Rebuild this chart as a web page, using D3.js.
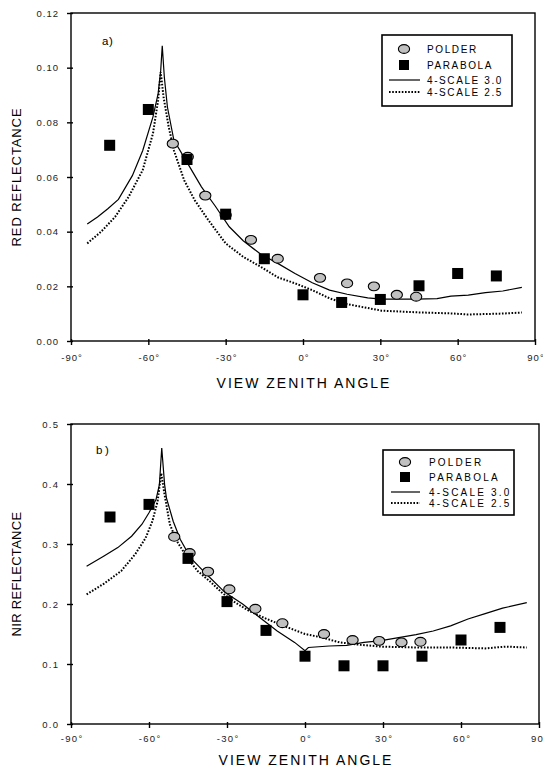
<!DOCTYPE html>
<html>
<head>
<meta charset="utf-8">
<script src="https://cdn.jsdelivr.net/npm/d3@7"></script>
<style>
  body { margin: 0; background: #fff; }
  svg { font-family: "Liberation Sans", Arial, sans-serif; }
</style>
</head>
<body>
<svg id="chart" width="543" height="770"></svg>
<script>
// ---- data ----
const xTicks = [-90, -60, -30, 0, 30, 60, 90];
const redTicks = [0, 0.02, 0.04, 0.06, 0.08, 0.10, 0.12];
const nirTicks = [0, 0.1, 0.2, 0.3, 0.4, 0.5];
const legendLabels = ["POLDER", "PARABOLA", "4-SCALE 3.0", "4-SCALE 2.5"];

// panel a) red
const redPolder = [
  [-50.5, 0.0722], [-44.7, 0.0674], [-37.9, 0.0532], [-30, 0.0461], [-20.2, 0.037],
  [-9.8, 0.0301], [6.6, 0.0231], [17.1, 0.0211], [27.5, 0.020], [36.4, 0.0169], [43.9, 0.0162]
];
const redParabola = [
  [-75, 0.0716], [-60, 0.0847], [-45, 0.0664], [-30, 0.0464], [-15, 0.0301], [0, 0.0169],
  [15, 0.0141], [30, 0.0152], [45, 0.0202], [60, 0.0247], [75, 0.0238]
];
const red30 = [
  [-83.7, 0.0428], [-79.7, 0.0454], [-75.6, 0.0485], [-71.6, 0.0518], [-66.2, 0.0605],
  [-62.2, 0.0696], [-58.2, 0.082], [-56.2, 0.0905], [-55.2, 0.099], [-54.6, 0.108],
  [-53.8, 0.0966], [-52.6, 0.0856], [-50.1, 0.0735], [-44.7, 0.0649], [-39.4, 0.0564],
  [-34, 0.0493], [-28.6, 0.0418], [-23.2, 0.0367], [-16.5, 0.0318], [-9.8, 0.0284],
  [-3.1, 0.0247], [3.6, 0.0213], [10.3, 0.0186], [17.1, 0.0171], [25.1, 0.0158],
  [30.5, 0.0153], [43.9, 0.0153], [52, 0.0155], [57.4, 0.0164], [64.1, 0.0168],
  [70.8, 0.0177], [77.5, 0.0183], [84.9, 0.0196]
];
const red25 = [
  [-83.7, 0.0357], [-78.3, 0.040], [-72.9, 0.0454], [-67.6, 0.0528], [-62.2, 0.0625],
  [-58.2, 0.0759], [-56.2, 0.0881], [-55.2, 0.0984], [-54.1, 0.0893], [-52.1, 0.0783],
  [-50.1, 0.0698], [-46.1, 0.0588], [-42, 0.0515], [-36.7, 0.0442], [-30, 0.0357],
  [-23.2, 0.0308], [-16.5, 0.0272], [-9.8, 0.0233], [-3.1, 0.0211], [3.6, 0.0186],
  [10.3, 0.0156], [17.1, 0.0135], [23.8, 0.0123], [30.5, 0.0111], [43.9, 0.0105],
  [57.4, 0.0101], [64.1, 0.0097], [76.2, 0.010], [84.9, 0.0104]
];

// panel b) nir
const nirPolder = [
  [-50.3, 0.312], [-44.4, 0.285], [-37.3, 0.254], [-29.1, 0.2245], [-19.1, 0.192],
  [-8.7, 0.168], [7.3, 0.150], [18.3, 0.140], [28.5, 0.1386], [37.1, 0.136], [44.4, 0.137]
];
const nirParabola = [
  [-75, 0.345], [-60, 0.366], [-45, 0.276], [-30, 0.204], [-15, 0.156], [0, 0.113],
  [15, 0.097], [30, 0.097], [45, 0.113], [60, 0.140], [75, 0.161]
];
const nir30 = [
  [-84, 0.263], [-77.3, 0.280], [-72, 0.294], [-66.7, 0.313], [-62.7, 0.333], [-60, 0.352],
  [-57.3, 0.374], [-56, 0.399], [-55.1, 0.460], [-54, 0.399], [-53.3, 0.377], [-50.7, 0.338],
  [-48, 0.308], [-44, 0.277], [-37.3, 0.247], [-30.7, 0.219], [-24, 0.200], [-17.3, 0.177],
  [-10.7, 0.155], [-4, 0.136], [0, 0.122], [1.3, 0.1275], [9.3, 0.130], [16, 0.131],
  [22.7, 0.136], [29.3, 0.139], [36, 0.144], [42.7, 0.149], [49.3, 0.155], [56, 0.1635],
  [62.7, 0.175], [69.3, 0.184], [76, 0.193], [85.3, 0.2023]
];
const nir25 = [
  [-84, 0.216], [-77.3, 0.234], [-70.7, 0.255], [-65.3, 0.283], [-61.3, 0.310], [-58.7, 0.338],
  [-56.7, 0.371], [-55.3, 0.418], [-54, 0.382], [-52, 0.333], [-49.3, 0.305], [-45.3, 0.277],
  [-41.3, 0.255], [-36, 0.2355], [-32, 0.219], [-26.7, 0.202], [-21.3, 0.188], [-14.7, 0.175],
  [-6.7, 0.161], [0, 0.150], [6.7, 0.144], [13.3, 0.136], [21.3, 0.132], [29.3, 0.129],
  [42.7, 0.1275], [56, 0.1275], [69.3, 0.126], [77.3, 0.129], [85.3, 0.1275]
];

const svg = d3.select("#chart");

function drawPanel(p) {
  const g = svg.append("g");
  const x = d3.scaleLinear().domain([-90, 90]).range([p.left, p.right]);
  const y = d3.scaleLinear().domain([0, p.yTicks[p.yTicks.length - 1]]).range([p.bottom, p.top]);

  // axes, ticks cross the frame a little
  const xa = g.append("g")
    .attr("transform", `translate(0,${p.bottom})`)
    .call(d3.axisBottom(x).tickValues(xTicks).tickSize(4).tickSizeOuter(0).tickFormat(d => d + "°"));
  const ya = g.append("g")
    .attr("transform", `translate(${p.left},0)`)
    .call(d3.axisLeft(y).tickValues(p.yTicks).tickSize(4).tickSizeOuter(0).tickFormat(d3.format(p.yFmt)));
  [xa, ya].forEach(a => {
    a.select(".domain").remove();
    a.selectAll("line").attr("stroke", "#000").attr("stroke-width", 1.4);
    a.selectAll("text").attr("fill", "#222").style("font-size", "9.5px")
      .style("letter-spacing", p.tickSpacing + "px")
      .style("font-family", "'Liberation Sans', Arial, sans-serif");
  });
  xa.selectAll("line").attr("y1", -2);
  ya.selectAll("line").attr("x1", 2);
  xa.selectAll("text").attr("y", p.xLabelOff).attr("dy", "0.35em").attr("dx", p.tickSpacing / 2);
  ya.selectAll("text").attr("x", -13 + p.tickSpacing);

  // frame
  g.append("rect")
    .attr("x", p.left).attr("y", p.top)
    .attr("width", p.right - p.left).attr("height", p.bottom - p.top)
    .attr("fill", "none").attr("stroke", "#000").attr("stroke-width", 1.4);

  const line = d3.line().x(d => x(d[0])).y(d => y(d[1]));

  g.append("path").datum(p.dotted).attr("d", line)
    .attr("fill", "none").attr("stroke", "#000").attr("stroke-width", 2)
    .attr("stroke-dasharray", "1.6,1.6");
  g.append("path").datum(p.solid).attr("d", line)
    .attr("fill", "none").attr("stroke", "#000").attr("stroke-width", 1.2);

  g.selectAll("ellipse.pol").data(p.polder).join("ellipse")
    .attr("class", "pol")
    .attr("cx", d => x(d[0])).attr("cy", d => y(d[1]))
    .attr("rx", 5.6).attr("ry", 4.4)
    .attr("fill", "#c0c0c0").attr("stroke", "#000").attr("stroke-width", 1.1);

  g.selectAll("rect.par").data(p.parabola).join("rect")
    .attr("class", "par")
    .attr("x", d => x(d[0]) - 5.5).attr("y", d => y(d[1]) - 5.5)
    .attr("width", 11).attr("height", 11).attr("fill", "#000");

  // panel tag
  g.append("text").attr("x", p.tag[1]).attr("y", p.tag[2])
    .style("font-size", "11.5px").style("letter-spacing", p.tag[3] + "px").text(p.tag[0]);

  // axis titles
  g.append("text")
    .attr("transform", `translate(${p.yTitleX},${(p.top + p.bottom) / 2}) rotate(-90)`)
    .attr("text-anchor", "middle").attr("dy", "0.35em")
    .style("font-size", "13px").style("letter-spacing", p.titleSpacing + "px")
    .text(p.yTitle);
  g.append("text")
    .attr("x", (p.left + p.right) / 2 + 1).attr("y", p.xTitleY)
    .attr("text-anchor", "middle").style("font-size", "14px").style("letter-spacing", "2px")
    .text("VIEW ZENITH ANGLE");

  // legend
  const L = p.legend;
  g.append("rect").attr("x", L.x).attr("y", L.y).attr("width", L.w).attr("height", L.h)
    .attr("fill", "#fff").attr("stroke", "#000").attr("stroke-width", 1.6);
  const lg = g.append("g");
  L.rows.forEach((ry, i) => {
    lg.append("text").attr("x", L.tx).attr("y", ry).attr("dy", "0.35em")
      .style("font-size", "10px").style("letter-spacing", L.spacing + "px")
      .text(legendLabels[i]);
  });
  lg.append("ellipse").attr("cx", L.sx).attr("cy", L.rows[0]).attr("rx", 5.6).attr("ry", 4.4)
    .attr("fill", "#c0c0c0").attr("stroke", "#000").attr("stroke-width", 1.1);
  lg.append("rect").attr("x", L.sx - 5).attr("y", L.rows[1] - 5).attr("width", 10).attr("height", 10)
    .attr("fill", "#000");
  lg.append("line").attr("x1", L.lx0).attr("x2", L.lx1).attr("y1", L.rows[2]).attr("y2", L.rows[2])
    .attr("stroke", "#000").attr("stroke-width", 1.2);
  lg.append("line").attr("x1", L.lx0).attr("x2", L.lx1).attr("y1", L.rows[3]).attr("y2", L.rows[3])
    .attr("stroke", "#000").attr("stroke-width", 2).attr("stroke-dasharray", "1.6,1.6");
}

drawPanel({
  left: 71, right: 535, top: 13, bottom: 341,
  yTicks: redTicks, yFmt: ".2f", tickSpacing: 1, xLabelOff: 17,
  polder: redPolder, parabola: redParabola, solid: red30, dotted: red25,
  tag: ["a)", 102, 45, 0.5], yTitle: "RED REFLECTANCE", yTitleX: 16, titleSpacing: 0.9, xTitleY: 388,
  legend: { x: 382, y: 35, w: 130, h: 71, rows: [49, 65, 80, 92], sx: 404, tx: 427, lx0: 389, lx1: 420, spacing: 1.6 }
});

drawPanel({
  left: 71, right: 539, top: 424, bottom: 724,
  yTicks: nirTicks, yFmt: ".1f", tickSpacing: 1.3, xLabelOff: 15,
  polder: nirPolder, parabola: nirParabola, solid: nir30, dotted: nir25,
  tag: ["b)", 96, 454, 2.5], yTitle: "NIR REFLECTANCE", yTitleX: 16, titleSpacing: 0.3, xTitleY: 765,
  legend: { x: 383, y: 450, w: 131, h: 65, rows: [462, 477, 492, 503], sx: 405, tx: 429, lx0: 391, lx1: 420, spacing: 2.2 }
});
</script>
</body>
</html>
